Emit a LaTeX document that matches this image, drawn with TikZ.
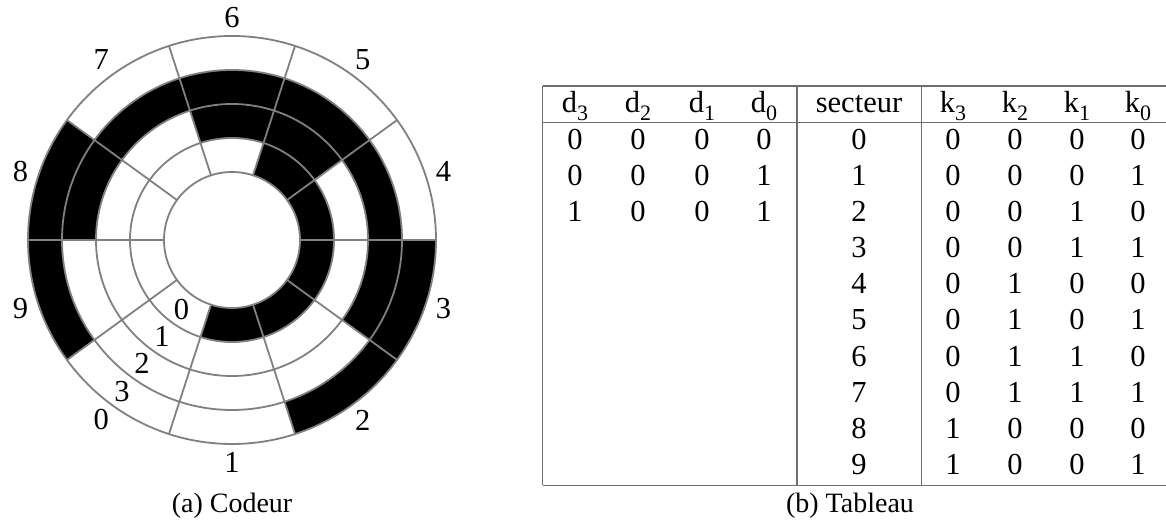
\documentclass[tikz,border=0pt]{standalone}
\usepackage{fontspec}
\setmainfont{Liberation Serif}
\definecolor{ringgray}{RGB}{128,128,128}
\definecolor{rulegray}{RGB}{110,110,110}
\newcommand{\subs}[1]{\raisebox{-.26em}{\fontsize{22}{22}\selectfont #1}}
\tikzset{
  ringline/.style={draw=ringgray,line width=1.8pt},
  rulel/.style={draw=rulegray,line width=1.5pt},
  lbl/.style={inner sep=0pt,font=\fontsize{30.5}{34}\selectfont},
  capt/.style={inner sep=0pt,font=\fontsize{28}{32}\selectfont},
  tbl/.style={inner sep=0pt,anchor=base,font=\fontsize{30.5}{34}\selectfont}
}
\begin{document}
\begin{tikzpicture}[x=1pt,y=1pt]
\useasboundingbox (0,0) rectangle (1166,526);
\begin{scope}[shift={(232,286)}]
  % black cells: ring inner radius / first angle of the sector
  \foreach \r/\a in {
    68/36,68/0,68/-36,68/-72,68/-108,
    102/72,102/36,
    136/144,136/108,136/72,136/36,136/0,136/-36,
    170/-36,170/-72,170/144,170/180}{
    \pgfmathsetmacro{\rr}{\r+34}
    \pgfmathsetmacro{\b}{\a+36}
    \fill[black] (\a:\r) arc[start angle=\a,end angle=\b,radius=\r]
      -- (\b:\rr) arc[start angle=\b,end angle=\a,radius=\rr] -- cycle;
  }
  \foreach \r in {68,102,136,170,204}{
    \draw[ringline] (0,0) circle[radius=\r];
  }
  \foreach \a in {0,36,...,324}{
    \draw[ringline] (\a:68) -- (\a:204);
  }
  % sector labels
  \foreach \n/\a in {0/-126,1/-90,2/-54,3/-18,4/18,5/54,6/90,7/126,8/162,9/198}{
    \node[lbl] (s\n) at (\a:222.5) {\n};
  }
  % ring labels
  \node[lbl] (r0) at (-126:86) {0};
  \node[lbl] (r1) at (-126:119) {1};
  \node[lbl] (r2) at (-126:153) {2};
  \node[lbl] (r3) at (-126:187) {3};
\end{scope}
\node[capt] (capa) at (232,20) {(a) Codeur};
\node[capt] (capb) at (850,20) {(b) Tableau};
% table rules
\coordinate (tl) at (542.5,440);
\coordinate (tr) at (1166,440);
\coordinate (hl) at (542.5,403.5);
\coordinate (hr) at (1166,403.5);
\coordinate (bl) at (542.5,40.5);
\coordinate (br) at (1166,40.5);
\draw[rulel] (tl) -- (tr);
\draw[rulel] (hl) -- (hr);
\draw[rulel] (bl) -- (br);
\draw[rulel] (tl) -- (bl);
\draw[rulel] (797,440) -- (797,40.5);
\draw[rulel,line width=1.1pt] (921.5,440) -- (921.5,40.5);
% headers
\foreach \x/\t/\i in {575/d/3,638/d/2,702/d/1,764/d/0,953/k/3,1015/k/2,1077/k/1,1138/k/0}{
  \node[tbl] (h\t\i) at (\x,413.5) {\t\subs{\i}};
}
\node[tbl] (hsec) at (859,413.5) {secteur};
% left columns
\foreach \x/\c/\row/\v in {
  575/a/0/0,638/b/0/0,702/c/0/0,764/d/0/0,
  575/a/1/0,638/b/1/0,702/c/1/0,764/d/1/1,
  575/a/2/1,638/b/2/0,702/c/2/0,764/d/2/1}{
  \node[tbl] (v\c\row) at (\x,{376.5-36.1*\row}) {\v};
}
% sector column and code columns
\foreach \row/\ka/\kb/\kc/\kd in {
  0/0/0/0/0,1/0/0/0/1,2/0/0/1/0,3/0/0/1/1,4/0/1/0/0,
  5/0/1/0/1,6/0/1/1/0,7/0/1/1/1,8/1/0/0/0,9/1/0/0/1}{
  \pgfmathsetmacro{\yy}{376.5-36.1*\row}
  \node[tbl] (n\row) at (859,\yy) {\row};
  \node[tbl] (ka\row) at (953,\yy) {\ka};
  \node[tbl] (kb\row) at (1015,\yy) {\kb};
  \node[tbl] (kc\row) at (1077,\yy) {\kc};
  \node[tbl] (kd\row) at (1138,\yy) {\kd};
}
\end{tikzpicture}
\end{document}
